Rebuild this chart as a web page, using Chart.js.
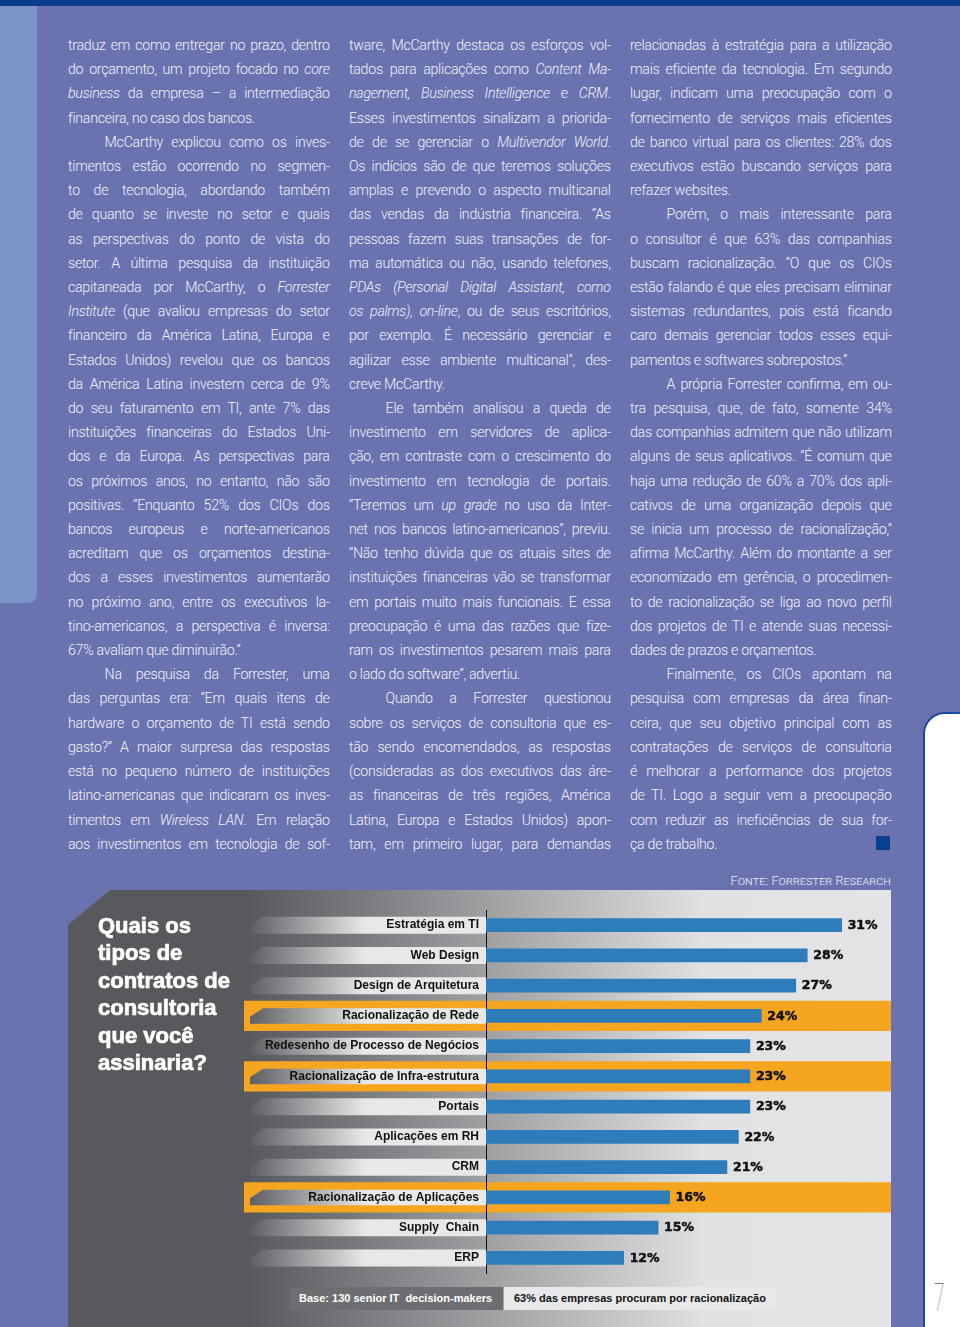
<!DOCTYPE html>
<html>
<head>
<meta charset="utf-8">
<script src="https://cdn.jsdelivr.net/npm/chart.js@4/dist/chart.umd.min.js"></script>
<style>
body{margin:0;background:#6a72b0}
#page{position:relative;width:960px;height:1327px;background:#6a72b0;overflow:hidden}
.topbar{position:absolute;left:0;top:0;width:960px;height:6px;background:#0b3b8b}
.strip{position:absolute;left:0;top:6px;width:37px;height:597px;background:#7b95c6;border-bottom-right-radius:9px}
.side{position:absolute;left:923px;top:712px;width:60px;height:700px;background:#fff;border:2px solid #1b4a9c;border-top-left-radius:22px}
.pnum{position:absolute;left:934px;top:1276px;font:100 38px Roboto;color:#7a7a7a;transform:scaleX(0.5);transform-origin:left}
.col{position:absolute;top:33px;width:286px;transform:scaleX(0.915);transform-origin:left top;font:300 15.5px/24.21px Roboto;color:#f3f3f8;letter-spacing:-0.3px}
.col div{height:24.21px;white-space:nowrap;text-align:justify;text-align-last:justify}
.col div.l{text-align:left;text-align-last:left}
.col div.i{padding-left:40px}
.sq{position:absolute;left:876px;top:836px;width:14px;height:14px;background:#0c3e8f}
.fonte{position:absolute;right:69px;top:873px;font:300 12.5px Roboto;font-variant:small-caps;color:#eeeef5;letter-spacing:0.1px}
.painel{position:absolute;left:68px;top:890px;width:823px;height:437px;
background:linear-gradient(to right,#58595d 0px,#58595d 180px,#e2e2e4 640px,#e4e4e6 823px);
clip-path:polygon(0 35px,42px 0,100% 0,100% 100%,0 100%)}
#grafico{position:absolute;left:68px;top:890px;width:823px;height:437px}
.titulo{position:absolute;left:98px;top:912px;font:bold 22px/27.4px "Liberation Sans";color:#fff;-webkit-text-stroke:0.7px #fff}
.base1{position:absolute;left:290px;top:1287px;width:213px;height:23px;background:#6d6e72;color:#fff;font:bold 11px/23px "Liberation Sans";padding-left:9px;box-sizing:border-box}
.base2{position:absolute;left:504px;top:1287px;width:273px;height:23px;background:#e8e8ea;color:#111;font:bold 11px/23px "Liberation Sans";padding-left:10px;box-sizing:border-box}
</style>
</head>
<body>
<div id="page">

<div class="topbar"></div>
<div class="strip"></div>
<div class="side"></div>
<div class="pnum">7</div>

<!-- coluna 1 -->
<div class="col" style="left:68px">
<div>traduz em como entregar no prazo, dentro</div>
<div>do orçamento, um projeto focado no <i>core</i></div>
<div><i>business</i> da empresa – a intermediação</div>
<div class="l">financeira, no caso dos bancos.</div>
<div class="i">McCarthy explicou como os inves-</div>
<div>timentos estão ocorrendo no segmen-</div>
<div>to de tecnologia, abordando também</div>
<div>de quanto se investe no setor e quais</div>
<div>as perspectivas do ponto de vista do</div>
<div>setor. A última pesquisa da instituição</div>
<div>capitaneada por McCarthy, o <i>Forrester</i></div>
<div><i>Institute</i> (que avaliou empresas do setor</div>
<div>financeiro da América Latina, Europa e</div>
<div>Estados Unidos) revelou que os bancos</div>
<div>da América Latina investem cerca de 9%</div>
<div>do seu faturamento em TI, ante 7% das</div>
<div>instituições financeiras do Estados Uni-</div>
<div>dos e da Europa. As perspectivas para</div>
<div>os próximos anos, no entanto, não são</div>
<div>positivas. “Enquanto 52% dos CIOs dos</div>
<div>bancos europeus e norte-americanos</div>
<div>acreditam que os orçamentos destina-</div>
<div>dos a esses investimentos aumentarão</div>
<div>no próximo ano, entre os executivos la-</div>
<div>tino-americanos, a perspectiva é inversa:</div>
<div class="l">67% avaliam que diminuirão.”</div>
<div class="i">Na pesquisa da Forrester, uma</div>
<div>das perguntas era: “Em quais itens de</div>
<div>hardware o orçamento de TI está sendo</div>
<div>gasto?” A maior surpresa das respostas</div>
<div>está no pequeno número de instituições</div>
<div>latino-americanas que indicaram os inves-</div>
<div>timentos em <i>Wireless LAN</i>. Em relação</div>
<div>aos investimentos em tecnologia de sof-</div>
</div>

<!-- coluna 2 -->
<div class="col" style="left:349px">
<div>tware, McCarthy destaca os esforços vol-</div>
<div>tados para aplicações como <i>Content Ma-</i></div>
<div><i>nagement, Business Intelligence</i> e <i>CRM</i>.</div>
<div>Esses investimentos sinalizam a priorida-</div>
<div>de de se gerenciar o <i>Multivendor World</i>.</div>
<div>Os indícios são de que teremos soluções</div>
<div>amplas e prevendo o aspecto multicanal</div>
<div>das vendas da indústria financeira. “As</div>
<div>pessoas fazem suas transações de for-</div>
<div>ma automática ou não, usando telefones,</div>
<div><i>PDAs (Personal Digital Assistant, como</i></div>
<div><i>os palms), on-line</i>, ou de seus escritórios,</div>
<div>por exemplo. É necessário gerenciar e</div>
<div>agilizar esse ambiente multicanal”, des-</div>
<div class="l">creve McCarthy.</div>
<div class="i">Ele também analisou a queda de</div>
<div>investimento em servidores de aplica-</div>
<div>ção, em contraste com o crescimento do</div>
<div>investimento em tecnologia de portais.</div>
<div>“Teremos um <i>up grade</i> no uso da Inter-</div>
<div>net nos bancos latino-americanos”, previu.</div>
<div>“Não tenho dúvida que os atuais sites de</div>
<div>instituições financeiras vão se transformar</div>
<div>em portais muito mais funcionais. E essa</div>
<div>preocupação é uma das razões que fize-</div>
<div>ram os investimentos pesarem mais para</div>
<div class="l">o lado do software”, advertiu.</div>
<div class="i">Quando a Forrester questionou</div>
<div>sobre os serviços de consultoria que es-</div>
<div>tão sendo encomendados, as respostas</div>
<div>(consideradas as dos executivos das áre-</div>
<div>as financeiras de três regiões, América</div>
<div>Latina, Europa e Estados Unidos) apon-</div>
<div>tam, em primeiro lugar, para demandas</div>
</div>

<!-- coluna 3 -->
<div class="col" style="left:630px">
<div>relacionadas à estratégia para a utilização</div>
<div>mais eficiente da tecnologia. Em segundo</div>
<div>lugar, indicam uma preocupação com o</div>
<div>fornecimento de serviços mais eficientes</div>
<div>de banco virtual para os clientes: 28% dos</div>
<div>executivos estão buscando serviços para</div>
<div class="l">refazer websites.</div>
<div class="i">Porém, o mais interessante para</div>
<div>o consultor é que 63% das companhias</div>
<div>buscam racionalização. “O que os CIOs</div>
<div>estão falando é que eles precisam eliminar</div>
<div>sistemas redundantes, pois está ficando</div>
<div>caro demais gerenciar todos esses equi-</div>
<div class="l">pamentos e softwares sobrepostos.”</div>
<div class="i">A própria Forrester confirma, em ou-</div>
<div>tra pesquisa, que, de fato, somente 34%</div>
<div>das companhias admitem que não utilizam</div>
<div>alguns de seus aplicativos. “É comum que</div>
<div>haja uma redução de 60% a 70% dos apli-</div>
<div>cativos de uma organização depois que</div>
<div>se inicia um processo de racionalização,”</div>
<div>afirma McCarthy. Além do montante a ser</div>
<div>economizado em gerência, o procedimen-</div>
<div>to de racionalização se liga ao novo perfil</div>
<div>dos projetos de TI e atende suas necessi-</div>
<div class="l">dades de prazos e orçamentos.</div>
<div class="i">Finalmente, os CIOs apontam na</div>
<div>pesquisa com empresas da área finan-</div>
<div>ceira, que seu objetivo principal com as</div>
<div>contratações de serviços de consultoria</div>
<div>é melhorar a performance dos projetos</div>
<div>de TI. Logo a seguir vem a preocupação</div>
<div>com reduzir as ineficiências de sua for-</div>
<div class="l">ça de trabalho.</div>
</div>
<div class="sq"></div>

<div class="fonte">Fonte: Forrester Research</div>

<div class="painel"></div>
<div id="grafico"><canvas id="barras"></canvas></div>
<div class="titulo">Quais os<br>tipos de<br>contratos de<br>consultoria<br>que você<br>assinaria?</div>
<div class="base1">Base: 130 senior IT&nbsp; decision-makers</div>
<div class="base2">63% das empresas procuram por racionalização</div>

</div>

<script>
/* ====================================
   DADOS DO GRAFICO
==================================== */

const categorias=["Estratégia em TI","Web Design","Design de Arquitetura","Racionalização de Rede","Redesenho de Processo de Negócios","Racionalização de Infra-estrutura","Portais","Aplicações em RH","CRM","Racionalização de Aplicações","Supply  Chain","ERP"]

const percentuais=[31,28,27,24,23,23,23,22,21,16,15,12]

// linhas com faixa laranja
const destaques=["Racionalização de Rede","Racionalização de Infra-estrutura","Racionalização de Aplicações"]

const escalaMax=35.3



/* ====================================
   FAIXAS ATRAS DOS ROTULOS
==================================== */

const faixas={
id:"faixas",
beforeDraw(chart){

const {ctx,chartArea,scales}=chart
const y=scales.y
const passo=y.getPixelForValue(1)-y.getPixelForValue(0)

categorias.forEach((c,i)=>{

const cy=y.getPixelForValue(i)
const laranja=destaques.includes(c)

// faixa laranja de toda a linha
if(laranja){
ctx.fillStyle="#f6a521"
ctx.fillRect(chartArea.left-242,cy-passo/2,chartArea.right-chartArea.left+242,passo)
}

// faixa cinza do rotulo
const x0=chartArea.left-236
const x1=chartArea.left
const h=laranja?15.5:17
const topo=cy-h/2
const base=cy+h/2

const g=ctx.createLinearGradient(x0,0,x0+115,0)
g.addColorStop(0,"#5e5f63")
g.addColorStop(1,"#e8e8ea")
ctx.fillStyle=g

ctx.beginPath()
ctx.moveTo(x0+13,topo)
ctx.lineTo(x1,topo)
ctx.lineTo(x1,base)
ctx.lineTo(x0,base)
ctx.lineTo(x0,topo+h*0.55)
ctx.closePath()
ctx.fill()

})

}
}



/* ====================================
   VALORES NA PONTA DAS BARRAS
==================================== */

const valores={
id:"valores",
afterDatasetsDraw(chart){

const ctx=chart.ctx
const meta=chart.getDatasetMeta(0)

ctx.save()
ctx.font="bold 12.5px 'DejaVu Sans'"
ctx.fillStyle="#111"
ctx.strokeStyle="#111"
ctx.lineWidth=0.5
ctx.textBaseline="middle"

meta.data.forEach((bar,i)=>{
const t=percentuais[i]+"%"
ctx.fillText(t,bar.x+6,bar.y+0.5)
ctx.strokeText(t,bar.x+6,bar.y+0.5)
})

ctx.restore()

}
}



/* ====================================
   GRAFICO DE BARRAS
==================================== */

new Chart(document.getElementById("barras"),{

type:"bar",

data:{
labels:categorias,
datasets:[{
data:percentuais,
backgroundColor:"#2e7cba",
borderWidth:0,
barThickness:13
}]
},

options:{
indexAxis:"y",
responsive:true,
maintainAspectRatio:false,
animation:false,
layout:{padding:{top:20,bottom:54,left:0,right:0}},
plugins:{
legend:{display:false},
tooltip:{enabled:false}
},
scales:{
x:{display:false,min:0,max:escalaMax},
y:{
afterFit(s){s.width=418},
grid:{display:false,drawTicks:false},
border:{display:true,color:"#111",width:1},
ticks:{
autoSkip:false,
padding:7,
color:"#111",
font:{family:"Liberation Sans",weight:"bold",size:12}
}
}
}
},

plugins:[faixas,valores]

})
</script>
</body>
</html>
